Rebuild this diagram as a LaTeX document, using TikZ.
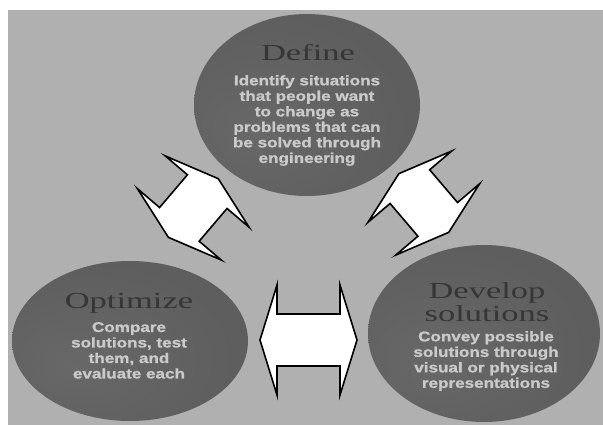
\documentclass[tikz,border=0pt]{standalone}
\usepackage{fontspec}
\newfontfamily\titlefont[FakeStretch=1.5]{Liberation Serif}
\newfontfamily\bodyfont[FakeStretch=1.22, FakeBold=1.2, UprightFont={Liberation Sans Bold},
  BoldFont={Liberation Sans Bold}]{Liberation Sans}
\usetikzlibrary{shapes.geometric}

\definecolor{panel}{HTML}{B0B0B0}
\definecolor{discdark}{HTML}{5E5E5E}
\definecolor{discmid}{HTML}{686868}
\definecolor{discrim}{HTML}{A8A8A8}
\definecolor{titlegray}{HTML}{363636}
\definecolor{bodygray}{HTML}{CACACA}

% dark disc that lightens towards its upper right rim
\pgfdeclareradialshading{discshade}{\pgfpoint{-12bp}{-8bp}}{%
  color(0bp)=(discmid); color(30bp)=(discdark); color(46bp)=(discdark);
  color(62bp)=(discrim); color(80bp)=(discrim)}

\tikzset{
  disc/.style={ellipse, inner sep=0pt, shading=discshade},
  titletext/.style={inner sep=0pt, text=titlegray,
    font=\titlefont\fontsize{23}{23}\selectfont, align=center},
  bodytext/.style={inner sep=0pt, text=bodygray,
    font=\bodyfont\bfseries\fontsize{14}{15.5}\selectfont, align=center},
  arrowline/.style={draw=black, fill=white, line width=1.6pt, line join=miter},
  pics/twinarrow/.style={code={
    \draw[arrowline] (-#1/2,0) -- ++(17,55) -- ++(0,-29) -- ({#1/2-17},26)
      -- ++(0,29) -- (#1/2,0) -- ++(-17,-55) -- ++(0,29)
      -- ({-#1/2+17},-26) -- ++(0,-29) -- cycle;
  }}
}

\begin{document}
\begin{tikzpicture}[x=1pt, y=-1pt]
  \useasboundingbox (0,0) rectangle (603,425);
  \fill[white] (0,0) rectangle (603,425);
  \fill[panel] (8,10) rectangle (603,425);

  % the three stages
  \node[disc, minimum width=226pt, minimum height=182pt] (define) at (307,105) {};
  \node[disc, minimum width=236pt, minimum height=160pt] (optimize) at (130,341) {};
  \node[disc, minimum width=232pt, minimum height=177pt] (develop) at (484,333.5) {};

  \node[titletext, anchor=base] (defineTitle) at (308,61) {Define};
  \node[bodytext, anchor=north] (defineBody) at (307,75)
    {Identify situations\\that people want\\to change as\\problems that can\\be solved through\\engineering};

  \node[titletext, anchor=base] (optimizeTitle) at (129,308) {Optimize};
  \node[bodytext, anchor=north] (optimizeBody) at (129,322)
    {Compare\\solutions, test\\them, and\\evaluate each};

  \node[titletext, anchor=north] (developTitle) at (487,282.3) {Develop\\solutions};
  \node[bodytext, anchor=north] (developBody) at (486,331)
    {Convey possible\\solutions through\\visual or physical\\representations};

  % two-way block arrows between the stages
  \pic[rotate=49.6] at (193.3,208) {twinarrow=77};
  \pic[rotate=130.4] at (423.8,203) {twinarrow=77};
  \pic at (308.5,340) {twinarrow=97};
\end{tikzpicture}
\end{document}
